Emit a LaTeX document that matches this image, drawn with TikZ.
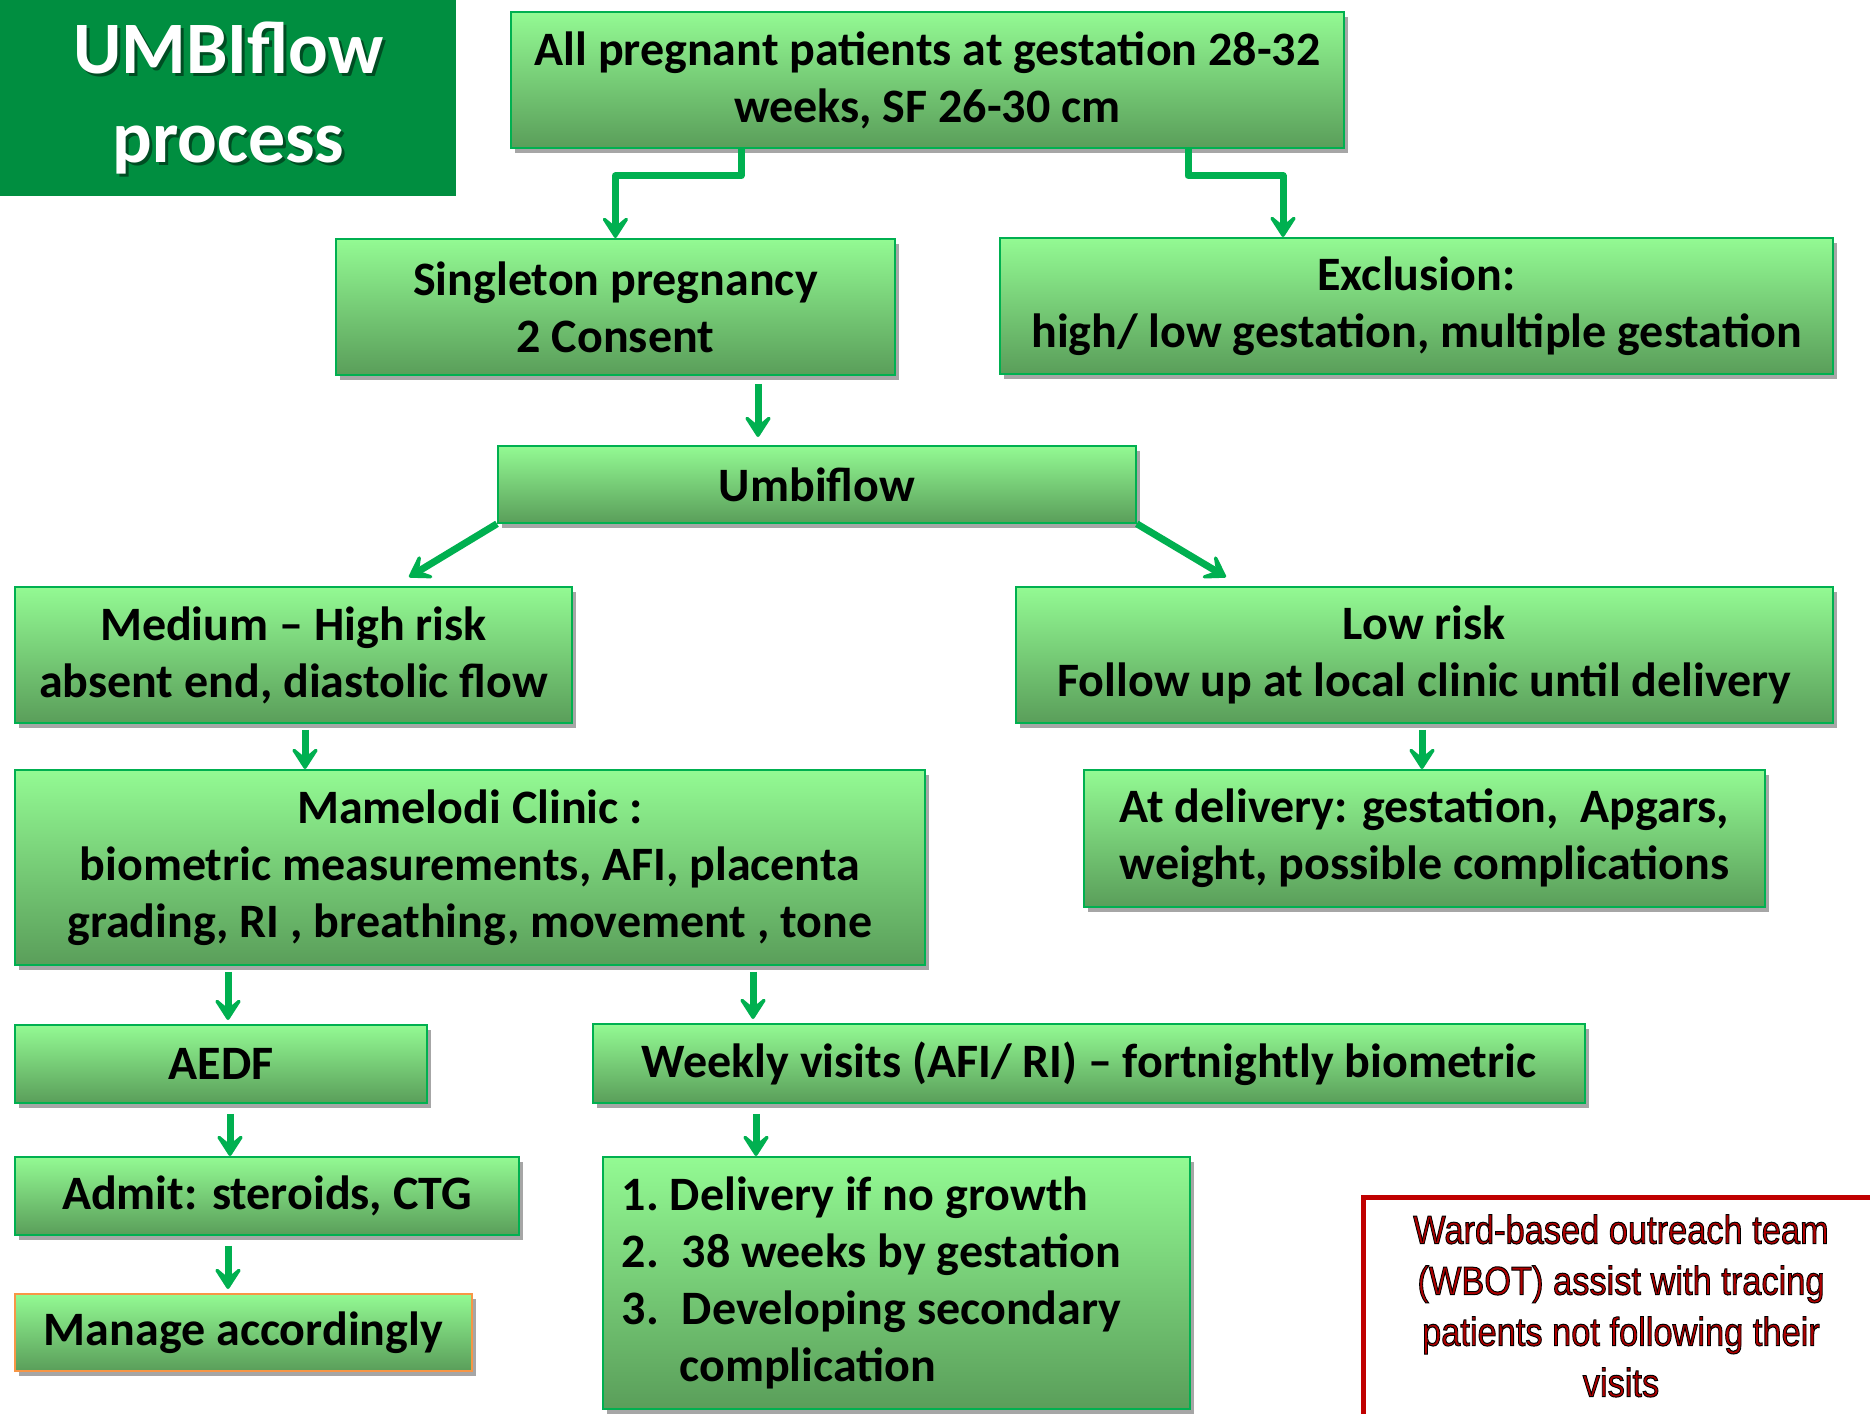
\documentclass[tikz,border=0pt]{standalone}
\usepackage{fontspec}
\setmainfont{Carlito}
\newfontfamily\arialf{Liberation Sans}
\usetikzlibrary{shadows,arrows.meta,calc}
\definecolor{bgreen}{HTML}{00B050}
\definecolor{tgreen}{HTML}{008E40}
\definecolor{topg}{HTML}{93FA93}
\definecolor{botg}{HTML}{5A9E5A}
\definecolor{redb}{HTML}{C00000}
\definecolor{orangeb}{HTML}{F79646}
\definecolor{redtext}{HTML}{B00000}
\tikzset{
  box/.style={draw=bgreen, line width=0.9pt, top color=topg, bottom color=botg,
    anchor=north west, inner sep=0pt, align=center,
    font=\fontsize{24}{28.5}\selectfont\bfseries,
    drop shadow={shadow xshift=2pt, shadow yshift=-2.5pt, opacity=0.35, fill=black}},
  arr/.style={draw=bgreen, line width=3.5pt, line join=round,
    -{Stealth[length=14pt,width=18pt,inset=7.5pt,round]}},
  titletext/.style={align=center, font=\fontsize{37}{44.5}\selectfont\bfseries},
}
\newcommand{\outlinedtext}[1]{\special{pdf:literal direct 0 0 0 RG 0.5 w 2 Tr}#1\special{pdf:literal direct 0 Tr}}
\newcommand{\numitem}[3][1.25em]{\makebox[#1][l]{#2}#3}
\begin{document}
\begin{tikzpicture}[x=0.5pt,y=-0.5pt]
\useasboundingbox (0,0) rectangle (1870,1414);
\fill[white] (0,0) rectangle (1870,1414);

% title
\node[fill=tgreen, anchor=north west, minimum width=228pt, minimum height=98pt, inner sep=0pt] (title) at (0,0) {};
\node[titletext, text=black, opacity=0.45] (titleshadow) at ([xshift=1.5pt,yshift=-1.5pt]title.center) {UMBIflow\\process};
\node[titletext, text=white] (titletxt) at (title.center) {UMBIflow\\process};

% boxes
\node[box, minimum width=416.5pt, minimum height=68pt] (top) at (510,11) {All pregnant patients at gestation 28-32\\weeks, SF 26-30 cm};
\node[box, minimum width=279.5pt, minimum height=68pt] (single) at (335,238) {Singleton pregnancy\\2 Consent};
\node[box, minimum width=416.5pt, minimum height=68pt] (excl) at (999,237) {Exclusion:\\high/ low gestation, multiple gestation};
\node[box, minimum width=319pt, minimum height=38.5pt] (umbi) at (497,445) {Umbiflow};
\node[box, minimum width=278.5pt, minimum height=68pt] (med) at (14,586) {Medium – High risk\\absent end, diastolic flow};
\node[box, minimum width=408.5pt, minimum height=68pt] (low) at (1015,586) {Low risk\\Follow up at local clinic until delivery};
\node[box, minimum width=455pt, minimum height=97.5pt] (mam) at (14,769) {Mamelodi Clinic :\\biometric measurements, AFI, placenta\\grading, RI , breathing, movement , tone};
\node[box, minimum width=340.5pt, minimum height=68.5pt] (deliv) at (1083,769) {At delivery: gestation,\ \ Apgars,\\weight, possible complications};
\node[box, minimum width=206pt, minimum height=39pt] (aedf) at (14,1024) {AEDF};
\node[box, minimum width=496pt, minimum height=39.5pt] (weekly) at (592,1023) {Weekly visits (AFI/ RI) – fortnightly biometric};
\node[box, minimum width=252pt, minimum height=39pt] (admit) at (14,1156) {Admit: steroids, CTG};
\node[box, align=flush left, inner xsep=9.5pt, text width=274.5pt, minimum height=126pt] (list) at (602,1156)
  {\numitem[1.0em]{1.}{Delivery if no growth}\\\numitem{2.}{38 weeks by gestation}\\\numitem{3.}{Developing secondary}\\\numitem[1.2em]{}{complication}};
\node[box, draw=orangeb, minimum width=228.5pt, minimum height=38.5pt] (manage) at (14,1293) {Manage accordingly};

% WBOT box
\node[draw=redb, line width=2.5pt, fill=white, anchor=north west, minimum width=270pt, minimum height=130pt, inner sep=0pt] (wbot) at (1361,1195) {};
\node[text=redtext, inner sep=0pt] (wbottxt) at (1621,1310)
  {\scalebox{0.86}[1]{\arialf\fontsize{20}{25.5}\selectfont\begin{tabular}{@{}c@{}}\outlinedtext{Ward-based outreach team}\\\outlinedtext{(WBOT) assist with tracing}\\\outlinedtext{patients not following their}\\\outlinedtext{visits}\end{tabular}}};

% connectors
\draw[arr] ([xshift=115.5pt]top.south west) -- ++(0,27) -| (single.north);
\draw[arr] ([xshift=339pt]top.south west) -- ++(0,27) -| ([xshift=142pt]excl.north west);
\draw[arr] ([xshift=211.5pt,yshift=-4pt]single.south west) -- ([xshift=130.5pt,yshift=4pt]umbi.north west);
\draw[arr] (umbi.south west) -- ([xshift=197.5pt,yshift=4.5pt]med.north west);
\draw[arr] (umbi.south east) -- ([xshift=105.5pt,yshift=4.5pt]low.north west);
\draw[arr] ([xshift=145.5pt,yshift=-3pt]med.south west) -- ([xshift=145.5pt]mam.north west);
\draw[arr] ([xshift=203.5pt,yshift=-3pt]low.south west) -- ([xshift=169.5pt]deliv.north west);
\draw[arr] ([xshift=107pt,yshift=-3pt]mam.south west) -- ([xshift=107pt,yshift=2pt]aedf.north west);
\draw[arr] ([xshift=369.5pt,yshift=-3pt]mam.south west) -- ([xshift=80.5pt,yshift=2pt]weekly.north west);
\draw[arr] ([xshift=108pt,yshift=-5pt]aedf.south west) -- ([xshift=108pt]admit.north west);
\draw[arr] ([xshift=82pt,yshift=-5pt]weekly.south west) -- ([xshift=77pt]list.north west);
\draw[arr] ([xshift=107pt,yshift=-5pt]admit.south west) -- ([xshift=107pt,yshift=2pt]manage.north west);
\end{tikzpicture}
\end{document}
